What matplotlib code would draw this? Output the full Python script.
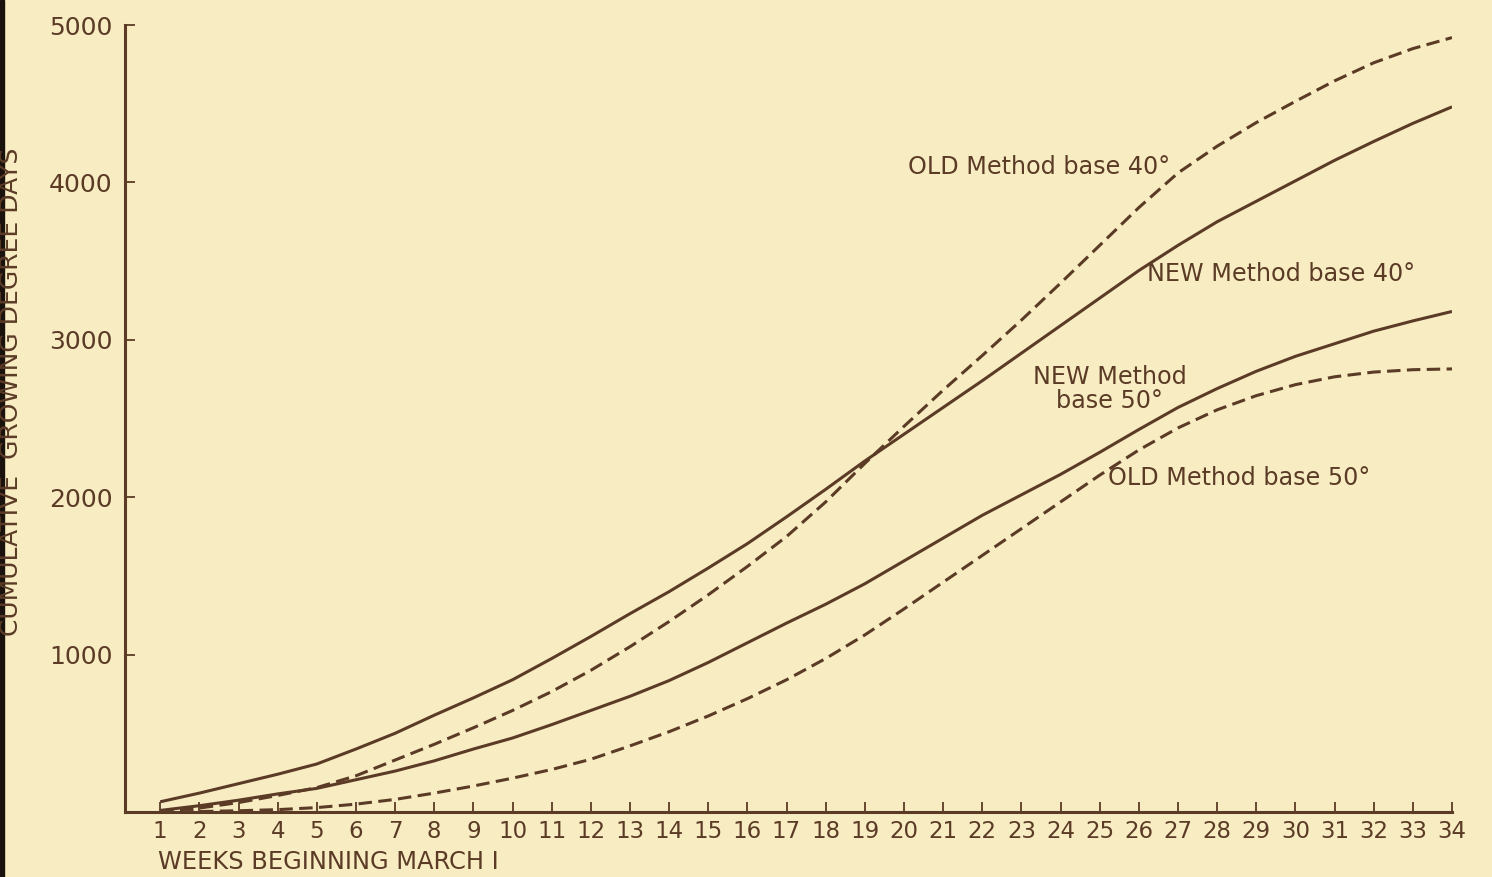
"""
Cumulative growing degree days, old vs new method, base 40 and base 50.
"""
import numpy as np
import matplotlib
matplotlib.use("Agg")
import matplotlib.pyplot as plt
from matplotlib.patches import Rectangle

# weeks beginning March 1
weeks = list(range(1, 35))

new_40 = [65, 120, 180, 240, 305, 400, 500, 615, 725, 840,
          975, 1115, 1260, 1400, 1550, 1705, 1875, 2050, 2230, 2400,
          2570, 2740, 2915, 3090, 3265, 3440, 3600, 3750, 3880, 4010,
          4140, 4260, 4375, 4480]
old_40 = [5, 25, 60, 105, 155, 230, 330, 430, 535, 645,
          765, 900, 1050, 1210, 1380, 1560, 1750, 1970, 2215, 2450,
          2680, 2900, 3125, 3360, 3600, 3840, 4060, 4230, 4380, 4515,
          4645, 4760, 4850, 4920]
new_50 = [10, 40, 75, 115, 150, 205, 260, 325, 400, 470,
          555, 645, 735, 835, 950, 1075, 1200, 1320, 1450, 1595,
          1740, 1885, 2015, 2145, 2285, 2430, 2570, 2690, 2800, 2895,
          2975, 3055, 3120, 3180]
old_50 = [0, 3, 8, 15, 28, 50, 80, 120, 165, 215,
          270, 335, 420, 510, 610, 720, 840, 975, 1125, 1290,
          1460, 1630, 1800, 1970, 2140, 2300, 2440, 2555, 2645, 2715,
          2765, 2795, 2810, 2815]

y_ticks = [1000, 2000, 3000, 4000, 5000]

INK = "#5b3b26"
PAPER = "#f8edc2"

W, H = 1492, 877
fig = plt.figure(figsize=(W / 100, H / 100), dpi=100, facecolor=PAPER)
ax = fig.add_axes([125 / W, 65 / H, (1452 - 125) / W, (812 - 25) / H])
ax.set_facecolor(PAPER)

solid = dict(color=INK, lw=2.2, solid_capstyle="butt")
dash = dict(color=INK, lw=2.2, linestyle=(0, (4.4, 2.1)), dash_capstyle="butt")

ax.plot(weeks, new_40, **solid)
ax.plot(weeks, old_40, **dash)
ax.plot(weeks, new_50, **solid)
ax.plot(weeks, old_50, **dash)

ax.set_xlim(0.1, 34)
ax.set_ylim(0, 5000)

for s in ["top", "right"]:
    ax.spines[s].set_visible(False)
for s in ["left", "bottom"]:
    ax.spines[s].set_color(INK)
    ax.spines[s].set_linewidth(2.2)

ax.set_xticks(weeks)
ax.set_xticklabels([str(w) for w in weeks])
ax.set_yticks(y_ticks)
ax.set_yticklabels([str(v) for v in y_ticks])
ax.tick_params(axis="both", direction="in", length=7, width=1.3,
               color=INK, labelcolor=INK)
ax.tick_params(axis="x", pad=6, labelsize=16.5)
ax.tick_params(axis="y", pad=9, labelsize=18)

txt = dict(color=INK, fontsize=17.2, family="DejaVu Sans")
ax.text(20.1, 4100, "OLD Method base 40°", ha="left", va="center", **txt)
ax.text(26.2, 3420, "NEW Method base 40°", ha="left", va="center", **txt)
ax.text(25.25, 2690, "NEW Method\nbase 50°", ha="center", va="center",
        linespacing=1.0, **txt)
ax.text(25.2, 2120, "OLD Method base 50°", ha="left", va="center", **txt)

fig.text(158 / W, 1 - 862 / H, "WEEKS BEGINNING MARCH I", ha="left",
         va="center", color=INK, fontsize=17.4)
fig.text(11 / W, 1 - 392 / H, "CUMULATIVE  GROWING DEGREE DAYS",
         rotation=90, ha="center", va="center", color=INK, fontsize=18)

# dark scan edge on the far left
fig.patches.append(Rectangle((0, 0), 4 / W, 1, transform=fig.transFigure,
                             color="#1a120c", zorder=0))

fig.savefig("out.png", dpi=100, facecolor=PAPER)
